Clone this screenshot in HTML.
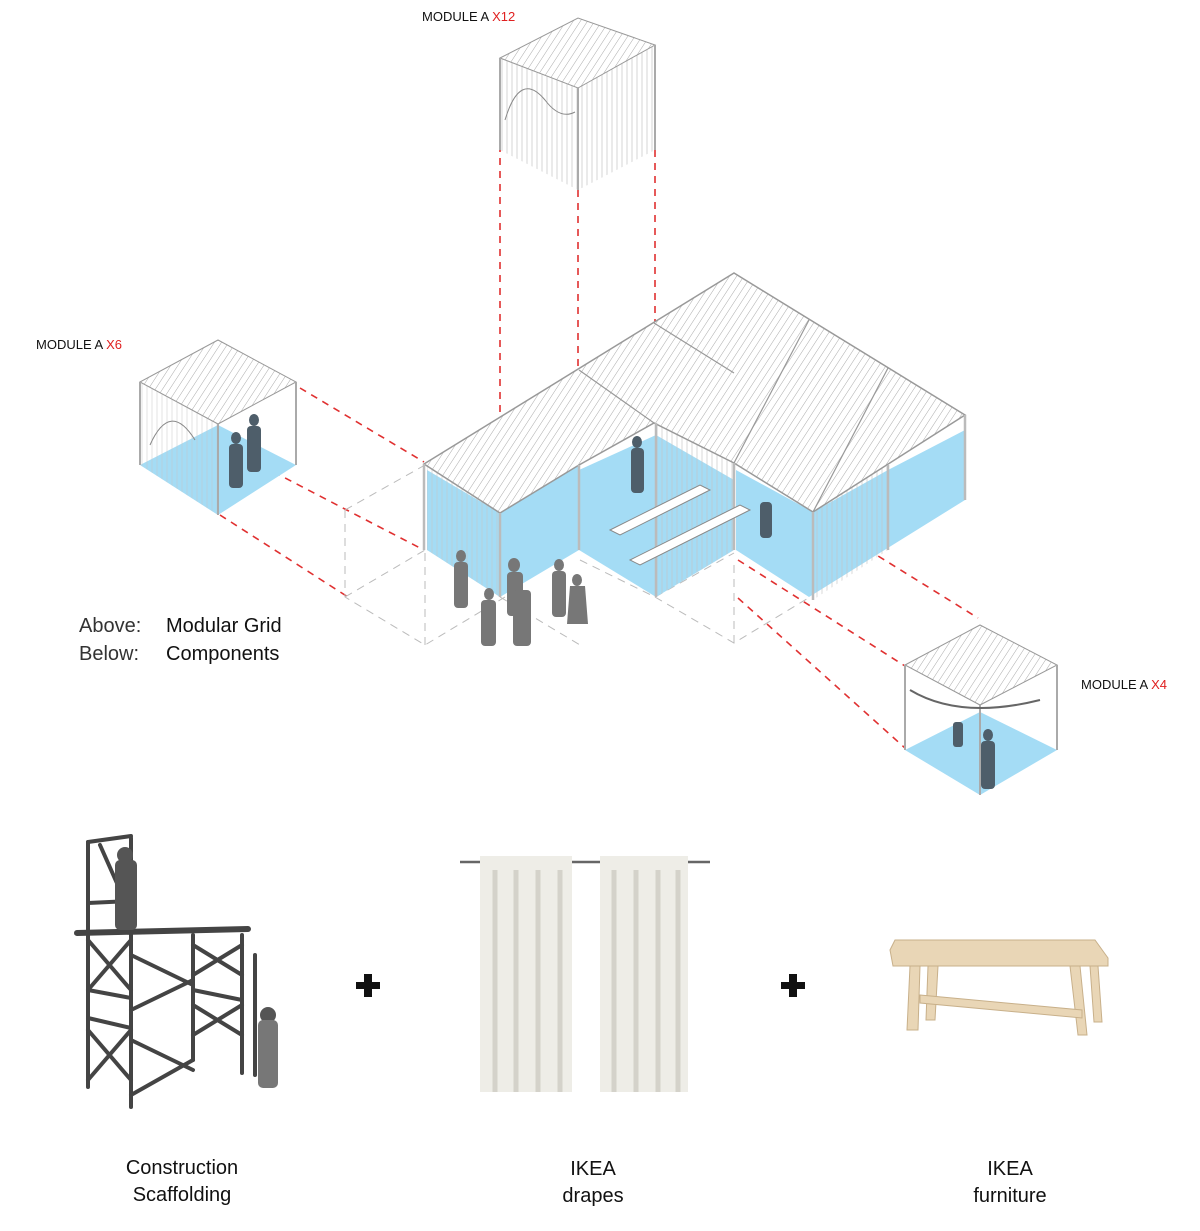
<!DOCTYPE html>
<html><head><meta charset="utf-8"><style>
html,body{margin:0;padding:0;background:#fff;}
svg{display:block}
text{font-family:"Liberation Sans",sans-serif;}
</style></head><body>
<svg width="1200" height="1231" viewBox="0 0 1200 1231" xmlns="http://www.w3.org/2000/svg">
<defs>
<pattern id="h" width="6" height="6" patternUnits="userSpaceOnUse" patternTransform="rotate(33)">
<rect width="6" height="6" fill="#fff"/><line x1="0" y1="0" x2="0" y2="6" stroke="#a0a0a0" stroke-width="0.9"/></pattern>
<pattern id="v" width="5" height="10" patternUnits="userSpaceOnUse">
<line x1="2" y1="0" x2="2" y2="10" stroke="#c4c4c4" stroke-width="0.8"/></pattern>
</defs>

<text x="422" y="21" font-size="13" fill="#111">MODULE A <tspan fill="#e02020">X12</tspan></text>
<text x="36" y="349" font-size="13" fill="#111">MODULE A <tspan fill="#e02020">X6</tspan></text>
<text x="1081" y="689" font-size="13" fill="#111">MODULE A <tspan fill="#e02020">X4</tspan></text>
<text x="79" y="632" font-size="20" fill="#333">Above:</text>
<text x="166" y="632" font-size="20" fill="#111">Modular Grid</text>
<text x="79" y="660" font-size="20" fill="#333">Below:</text>
<text x="166" y="660" font-size="20" fill="#111">Components</text>

<g stroke="#e03030" stroke-width="1.6" stroke-dasharray="7,6" fill="none">
<line x1="500" y1="145" x2="500" y2="455"/>
<line x1="578" y1="190" x2="578" y2="378"/>
<line x1="655" y1="150" x2="655" y2="412"/>
<line x1="300" y1="388" x2="424" y2="462"/>
<line x1="262" y1="466" x2="420" y2="548"/>
<line x1="220" y1="515" x2="348" y2="597"/>
<line x1="812" y1="515" x2="978" y2="618"/>
<line x1="738" y1="560" x2="905" y2="666"/>
<line x1="738" y1="598" x2="905" y2="748"/>
</g>
<g stroke="#bbb" stroke-width="1" stroke-dasharray="8,6" fill="none">
<path d="M345 510 L425 465 M345 510 L345 597 L425 645 L505 597 M425 645 L425 550 M345 597 L425 550 M580 560 L655 597 L734 553 M655 597 L734 643 L810 597 M734 643 L734 560 M500 597 L580 645"/>
</g>

<polygon points="500,150 500,58 578,88 578,190" fill="url(#v)" opacity="0.9"/>
<polygon points="578,190 578,88 655,45 655,150" fill="url(#v)" opacity="0.9"/>
<polygon points="500,58 578,18 655,45 578,88" fill="url(#h)" stroke="#999"/>
<g stroke="#aaa" stroke-width="2"><line x1="500" y1="58" x2="500" y2="150"/><line x1="578" y1="88" x2="578" y2="190"/><line x1="655" y1="45" x2="655" y2="150"/></g>
<path d="M505 120 Q520 70 545 100 Q560 120 575 112" stroke="#888" fill="none"/>

<polygon points="140,465 218,425 296,465 218,515" fill="#a4dcf5"/>
<polygon points="140,465 140,382 218,424 218,515" fill="url(#v)" opacity="0.6"/>
<polygon points="140,382 218,340 296,382 218,424" fill="url(#h)" stroke="#999"/>
<g stroke="#aaa" stroke-width="2"><line x1="140" y1="382" x2="140" y2="465"/><line x1="218" y1="424" x2="218" y2="515"/><line x1="296" y1="382" x2="296" y2="465"/></g>
<path d="M150 445 Q170 400 195 440" stroke="#888" fill="none"/>
<g fill="#4e5e6a"><ellipse cx="236" cy="438" rx="5" ry="6"/><rect x="229" y="444" width="14" height="44" rx="4"/><ellipse cx="254" cy="420" rx="5" ry="6"/><rect x="247" y="426" width="14" height="46" rx="4"/></g>

<polygon points="905,750 980,712 1057,750 980,795" fill="#a4dcf5"/>
<polygon points="905,665 980,625 1057,665 980,705" fill="url(#h)" stroke="#999"/>
<g stroke="#aaa" stroke-width="2"><line x1="905" y1="665" x2="905" y2="750"/><line x1="980" y1="705" x2="980" y2="795"/><line x1="1057" y1="665" x2="1057" y2="750"/></g>
<path d="M910 690 Q960 720 1040 700" stroke="#666" stroke-width="2" fill="none"/>
<g fill="#4e5e6a"><ellipse cx="988" cy="735" rx="5" ry="6"/><rect x="981" y="741" width="14" height="48" rx="4"/><rect x="953" y="722" width="10" height="25" rx="3"/></g>

<g fill="#a4dcf5">
<polygon points="427,550 500,597 579,550 579,465 500,513 427,470"/>
<polygon points="579,550 656,597 734,550 734,480 656,435 579,470"/>
<polygon points="736,470 736,550 809,597 965,500 965,430 888,470 813,512"/>
</g>
<polygon points="427,550 427,464 500,513 500,597" fill="url(#v)" opacity="0.7"/>
<polygon points="656,597 656,423 734,463 734,550" fill="url(#v)" opacity="0.8"/>
<polygon points="813,600 813,512 888,465 888,550" fill="url(#v)" opacity="0.8"/>
<polygon points="424,464 734,273 965,415 813,512 734,463 654,423 579,465 500,513" fill="url(#h)" stroke="#999" stroke-width="1.5"/>
<g stroke="#999" stroke-width="1.2" fill="none">
<line x1="579" y1="370" x2="654" y2="423"/><line x1="654" y1="323" x2="734" y2="373"/><line x1="809" y1="320" x2="734" y2="463"/><line x1="888" y1="368" x2="813" y2="512"/>
</g>
<g stroke="#bbb" stroke-width="2.5">
<line x1="424" y1="464" x2="424" y2="550"/><line x1="500" y1="513" x2="500" y2="597"/><line x1="579" y1="465" x2="579" y2="550"/>
<line x1="656" y1="423" x2="656" y2="597"/><line x1="734" y1="463" x2="734" y2="550"/><line x1="813" y1="512" x2="813" y2="600"/>
<line x1="888" y1="465" x2="888" y2="550"/><line x1="965" y1="415" x2="965" y2="500"/>
</g>
<g fill="#fff" stroke="#888"><polygon points="610,530 700,485 710,490 620,535"/><polygon points="630,560 740,505 750,510 640,565"/></g>
<g fill="#777">
<ellipse cx="461" cy="556" rx="5" ry="6"/><rect x="454" y="562" width="14" height="46" rx="4"/>
<ellipse cx="489" cy="594" rx="5" ry="6"/><rect x="481" y="600" width="15" height="46" rx="4"/>
<ellipse cx="514" cy="565" rx="6" ry="7"/><rect x="507" y="572" width="16" height="44" rx="4"/>
<rect x="513" y="590" width="18" height="56" rx="4"/>
<ellipse cx="559" cy="565" rx="5" ry="6"/><rect x="552" y="571" width="14" height="46" rx="4"/>
<ellipse cx="577" cy="580" rx="5" ry="6"/><path d="M570 586 L585 586 L588 624 L567 624 Z"/>
</g>
<g fill="#4e5e6a"><ellipse cx="637" cy="442" rx="5" ry="6"/><rect x="631" y="448" width="13" height="45" rx="4"/><rect x="760" y="502" width="12" height="36" rx="4"/></g>

<g fill="#111"><rect x="356" y="982" width="24" height="7"/><rect x="364" y="974" width="8" height="23"/>
<rect x="781" y="982" width="24" height="7"/><rect x="789" y="974" width="8" height="23"/></g>

<g stroke="#444" stroke-width="4" fill="none" stroke-linecap="round">
<line x1="88" y1="842" x2="88" y2="1087"/><line x1="131" y1="838" x2="131" y2="1107"/>
<line x1="88" y1="842" x2="131" y2="836"/><line x1="88" y1="903" x2="131" y2="901"/>
<line x1="193" y1="935" x2="193" y2="1060"/><line x1="242" y1="935" x2="242" y2="1073"/>
<line x1="77" y1="933" x2="248" y2="929" stroke-width="6"/>
<line x1="88" y1="990" x2="131" y2="998"/><line x1="88" y1="1018" x2="131" y2="1028"/>
<line x1="193" y1="990" x2="242" y2="1000"/>
<line x1="131" y1="955" x2="193" y2="985"/><line x1="131" y1="1010" x2="193" y2="980"/>
<line x1="131" y1="1040" x2="193" y2="1070"/><line x1="131" y1="1095" x2="193" y2="1060"/>
<line x1="88" y1="940" x2="131" y2="990"/><line x1="131" y1="940" x2="88" y2="990"/>
<line x1="88" y1="1030" x2="131" y2="1080"/><line x1="131" y1="1030" x2="88" y2="1080"/>
<line x1="193" y1="945" x2="242" y2="975"/><line x1="242" y1="945" x2="193" y2="975"/>
<line x1="193" y1="1005" x2="242" y2="1035"/><line x1="242" y1="1005" x2="193" y2="1035"/>
<line x1="100" y1="845" x2="120" y2="890"/><line x1="255" y1="955" x2="255" y2="1075"/>
</g>
<g fill="#555"><ellipse cx="125" cy="855" rx="8" ry="8"/><rect x="115" y="860" width="22" height="70" rx="5"/>
<ellipse cx="268" cy="1015" rx="8" ry="8"/><rect x="258" y="1020" width="20" height="68" rx="5" fill="#777"/></g>

<line x1="460" y1="862" x2="710" y2="862" stroke="#666" stroke-width="2.5"/>
<rect x="480" y="856" width="92" height="236" fill="#eeede7"/>
<rect x="600" y="856" width="88" height="236" fill="#eeede7"/>
<g stroke="#d4d2ca" stroke-width="5">
<line x1="495" y1="870" x2="495" y2="1092"/><line x1="516" y1="870" x2="516" y2="1092"/><line x1="538" y1="870" x2="538" y2="1092"/><line x1="560" y1="870" x2="560" y2="1092"/>
<line x1="614" y1="870" x2="614" y2="1092"/><line x1="636" y1="870" x2="636" y2="1092"/><line x1="658" y1="870" x2="658" y2="1092"/><line x1="678" y1="870" x2="678" y2="1092"/>
</g>

<g fill="#e9d6b6" stroke="#c8b08a" stroke-width="1">
<polygon points="895,940 1095,940 1108,958 1108,966 893,966 890,950"/>
<polygon points="910,966 920,966 918,1030 907,1030"/>
<polygon points="928,966 938,966 935,1020 926,1020"/>
<polygon points="1070,966 1080,966 1087,1035 1078,1035"/>
<polygon points="1090,966 1098,966 1102,1022 1094,1022"/>
<polygon points="920,995 1082,1010 1082,1018 920,1003"/>
</g>

<g font-size="20" fill="#111" text-anchor="middle">
<text x="182" y="1174">Construction</text><text x="182" y="1201">Scaffolding</text>
<text x="593" y="1175">IKEA</text><text x="593" y="1202">drapes</text>
<text x="1010" y="1175">IKEA</text><text x="1010" y="1202">furniture</text>
</g>
</svg>
</body></html>
